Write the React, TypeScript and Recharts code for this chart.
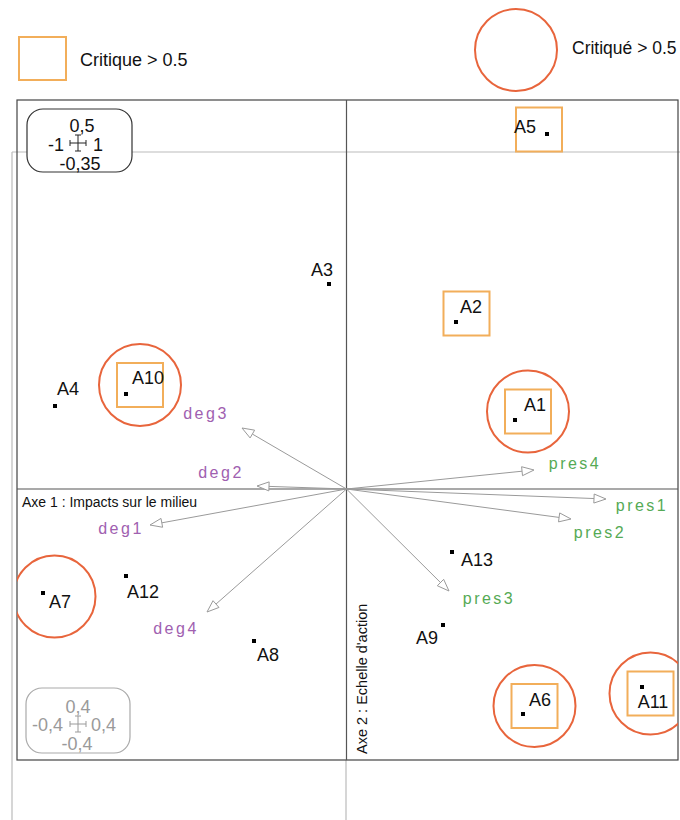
import React from "react";
import { ScatterChart, Scatter, XAxis, YAxis, ReferenceLine } from "recharts";

// individus (coordonnées sur les axes 1 et 2)
const individus = ["A1", "A2", "A3", "A4", "A5", "A6", "A7", "A8", "A9", "A10", "A11", "A12", "A13"];
const axe1 = [0.674, 0.438, -0.07, -1.166, 0.802, 0.706, -1.214, -0.37, 0.386, -0.882, 1.182, -0.882, 0.422];
const axe2 = [0.276, 0.668, 0.82, 0.332, 1.42, -0.9, -0.416, -0.608, -0.544, 0.38, -0.792, -0.348, -0.252];

// critiques
const critiqueCarre = ["A1", "A2", "A5", "A6", "A10", "A11"];
const critiqueCercle = ["A1", "A6", "A7", "A10", "A11"];

// variables (flèches)
const variables = ["deg1", "deg2", "deg3", "deg4", "pres1", "pres2", "pres3", "pres4"];
const varAxe1 = [-0.786, -0.358, -0.418, -0.558, 1.038, 0.898, 0.41, 0.75];
const varAxe2 = [-0.144, 0.012, 0.244, -0.492, -0.04, -0.12, -0.408, 0.076];

const W = 680;
const H = 820;
const M = { top: 100, right: 2, bottom: 60, left: 17 };
const FONT = '"Liberation Sans", Arial, sans-serif';

const ORANGE = "#F2AE5A";
const ROUGE = "#E8653C";
const VIOLET = "#A060B0";
const VERT = "#55AA55";

// décalage des étiquettes (px)
const labelOffset: Record<string, [number, number]> = {
  A1: [20, -15], A2: [15, -15], A3: [-7, -14], A4: [13, -17], A5: [-22, -7],
  A6: [17, -14], A7: [17, 9], A8: [14, 14], A9: [-16, 13], A10: [22, -16],
  A11: [11, 15], A12: [17, 16], A13: [25, 8],
  deg1: [-29, 3], deg2: [-36, -14], deg3: [-36, -15], deg4: [-31, 16],
  pres1: [36, 6], pres2: [29, 13], pres3: [40, 7], pres4: [41, -7],
};

const rows = individus.map((name, i) => ({ name, x: axe1[i], y: axe2[i] }));
const carres = rows.filter((r) => critiqueCarre.includes(r.name));
const cercles = rows.filter((r) => critiqueCercle.includes(r.name));
const fleches = variables.map((name, i) => ({ name, x: varAxe1[i], y: varAxe2[i] }));

const boxCenter = (name: string, cx: number, cy: number) => {
  const [dx, dy] = labelOffset[name];
  return [cx + dx / 2 + 3, cy + dy / 2 - 1];
};

function Point(props: any) {
  const { cx, cy, payload } = props;
  const [dx, dy] = labelOffset[payload.name];
  return (
    <g>
      <rect x={cx - 2} y={cy - 2} width={4} height={4} fill="#000" />
      <text x={cx + dx} y={cy + dy} textAnchor="middle" dominantBaseline="central"
        fontSize={18} fontFamily={FONT} fill="#111">
        {payload.name}
      </text>
    </g>
  );
}

function Carre(props: any) {
  const { cx, cy, payload } = props;
  const [bx, by] = boxCenter(payload.name, cx, cy);
  return <rect x={bx - 23} y={by - 22} width={46} height={44} fill="none" stroke={ORANGE} strokeWidth={2} />;
}

function Cercle(props: any) {
  const { cx, cy, payload } = props;
  const [bx, by] = boxCenter(payload.name, cx, cy);
  return <circle cx={bx} cy={by} r={41} fill="none" stroke={ROUGE} strokeWidth={2} />;
}

function Fleche(props: any) {
  const { x1, y1, x2, y2, name } = props;
  const len = Math.hypot(x2 - x1, y2 - y1);
  const ux = (x1 - x2) / len;
  const uy = (y1 - y2) / len;
  const bx = x2 + ux * 12;
  const by = y2 + uy * 12;
  const head = `${x2},${y2} ${bx - uy * 4.5},${by + ux * 4.5} ${bx + uy * 4.5},${by - ux * 4.5}`;
  const [dx, dy] = labelOffset[name];
  return (
    <g>
      <line x1={x1} y1={y1} x2={bx} y2={by} stroke="#9a9a9a" strokeWidth={1} />
      <polygon points={head} fill="#fff" stroke="#9a9a9a" strokeWidth={1} />
      <text x={x2 + dx} y={y2 + dy} textAnchor="middle" dominantBaseline="central"
        fontSize={16} letterSpacing={2.5} fontFamily={FONT}
        fill={name.startsWith("deg") ? VIOLET : VERT}>
        {name}
      </text>
    </g>
  );
}

function Croix({ x, y, color }: { x: number; y: number; color: string }) {
  return (
    <g stroke={color} strokeWidth={1}>
      <line x1={x - 8} y1={y} x2={x + 8} y2={y} />
      <line x1={x} y1={y - 8} x2={x} y2={y + 8} />
      <line x1={x - 8} y1={y - 3} x2={x - 8} y2={y + 3} />
      <line x1={x + 8} y1={y - 3} x2={x + 8} y2={y + 3} />
      <line x1={x - 3} y1={y - 8} x2={x + 3} y2={y - 8} />
      <line x1={x - 3} y1={y + 8} x2={x + 3} y2={y + 8} />
    </g>
  );
}

function Decor() {
  const t = { fontFamily: FONT, fontSize: 18 };
  return (
    <svg width={W} height={H} style={{ position: "absolute", left: 0, top: 0 }}>
      {/* légende */}
      <rect x={19} y={37} width={47} height={43} fill="none" stroke={ORANGE} strokeWidth={2} />
      <text x={80} y={66} fontFamily={FONT} fontSize={18} fill="#111">Critique &gt; 0.5</text>
      <circle cx={516} cy={50} r={41} fill="none" stroke={ROUGE} strokeWidth={2} />
      <text x={572} y={54} fontFamily={FONT} fontSize={17.5} fill="#111">Critiqué &gt; 0.5</text>

      {/* lignes grises décalées */}
      <line x1={12} y1={152} x2={12} y2={H} stroke="#bbb" strokeWidth={1.2} />
      <line x1={12} y1={152} x2={W} y2={152} stroke="#bbb" strokeWidth={1.2} />
      <line x1={346} y1={760} x2={346} y2={H} stroke="#bbb" strokeWidth={1.2} />

      {/* cadre */}
      <rect x={M.left} y={M.top} width={W - M.left - M.right} height={H - M.top - M.bottom}
        fill="none" stroke="#444" strokeWidth={1.2} />

      {/* échelle haut */}
      <rect x={27} y={109} width={105} height={63} rx={16} fill="#fff" stroke="#333" strokeWidth={1.2} />
      <g {...t} fill="#111">
        <text x={82} y={132} textAnchor="middle">0,5</text>
        <text x={64} y={151} textAnchor="end">-1</text>
        <text x={93} y={151}>1</text>
        <text x={80} y={170} textAnchor="middle">-0,35</text>
      </g>
      <Croix x={78} y={143} color="#222" />

      {/* échelle bas */}
      <rect x={26} y={688} width={104} height={65} rx={16} fill="#fff" stroke="#aaa" strokeWidth={1.2} />
      <g {...t} fill="#9a9a9a">
        <text x={78} y={713} textAnchor="middle">0,4</text>
        <text x={63} y={731} textAnchor="end">-0,4</text>
        <text x={91} y={731}>0,4</text>
        <text x={77} y={750} textAnchor="middle">-0,4</text>
      </g>
      <Croix x={78} y={724} color="#9a9a9a" />
    </svg>
  );
}

const LabelAxe1 = (props: any) => {
  const { viewBox } = props;
  return (
    <text x={viewBox.x + 5} y={viewBox.y + 18} fontFamily={FONT} fontSize={14} fill="#111">
      Axe 1 : Impacts sur le milieu
    </text>
  );
};

const LabelAxe2 = (props: any) => {
  const { viewBox } = props;
  const x = viewBox.x + 20;
  const y = viewBox.y + viewBox.height - 6;
  return (
    <text x={x} y={y} transform={`rotate(-90 ${x} ${y})`} fontFamily={FONT} fontSize={14.5} fill="#111">
      Axe 2 : Echelle d'action
    </text>
  );
};

export default function App() {
  return (
    <div style={{ position: "absolute", left: 0, top: 0, width: W, height: H, background: "#fff" }}>
      <Decor />
      <div style={{ position: "absolute", left: 0, top: 0 }}>
        <ScatterChart width={W} height={H} margin={M}>
          <XAxis type="number" dataKey="x" domain={[-1.318, 1.326]} hide allowDataOverflow />
          <YAxis type="number" dataKey="y" domain={[-1.084, 1.556]} hide allowDataOverflow />
          <ReferenceLine y={0} stroke="#555" strokeWidth={1.2} label={<LabelAxe1 />} />
          <ReferenceLine x={0} stroke="#555" strokeWidth={1.2} label={<LabelAxe2 />} />
          {fleches.map((f) => (
            <ReferenceLine
              key={f.name}
              segment={[{ x: 0, y: 0 }, { x: f.x, y: f.y }]}
              shape={(p: any) => <Fleche {...p} name={f.name} />}
            />
          ))}
          <Scatter data={cercles} shape={<Cercle />} isAnimationActive={false} />
          <Scatter data={carres} shape={<Carre />} isAnimationActive={false} />
          <Scatter data={rows} shape={<Point />} isAnimationActive={false} />
        </ScatterChart>
      </div>
    </div>
  );
}
